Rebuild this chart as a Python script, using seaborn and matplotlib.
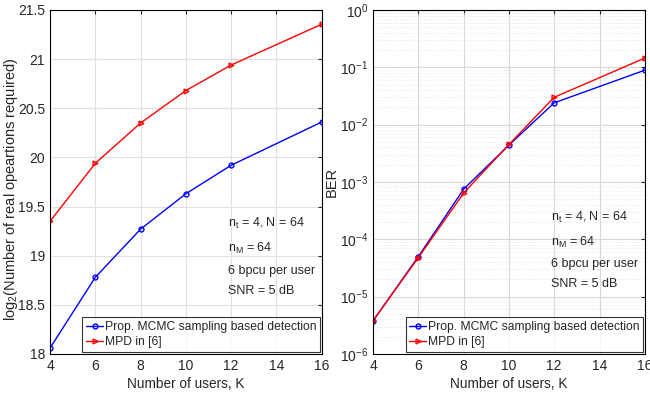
import pandas as pd
import numpy as np
import seaborn as sns
from matplotlib import pyplot as plt
from matplotlib import font_manager

# data
users = [4, 6, 8, 10, 12, 16]
ops_mcmc = [18.06, 18.78, 19.27, 19.63, 19.92, 20.36]
ops_mpd = [19.35, 19.94, 20.35, 20.68, 20.94, 21.355]
ber_mcmc = [3.8e-6, 5.0e-5, 7.5e-4, 4.4e-3, 2.4e-2, 8.9e-2]
ber_mpd = [3.8e-6, 4.8e-5, 6.4e-4, 4.5e-3, 3.0e-2, 1.45e-1]
labels = ['Prop. MCMC sampling based detection', 'MPD in [6]']

sns.set_style('white')
names = {f.name for f in font_manager.fontManager.ttflist}
fam = 'Liberation Sans Narrow' if 'Liberation Sans Narrow' in names else 'Liberation Sans'
plt.rcParams['font.family'] = [fam, 'DejaVu Sans']
plt.rcParams['mathtext.fontset'] = 'custom'
plt.rcParams['mathtext.rm'] = fam
plt.rcParams['mathtext.it'] = fam

df_ops = pd.DataFrame({'K': users * 2, 'val': ops_mcmc + ops_mpd,
                       'method': [labels[0]] * 6 + [labels[1]] * 6})
df_ber = pd.DataFrame({'K': users * 2, 'val': ber_mcmc + ber_mpd,
                       'method': [labels[0]] * 6 + [labels[1]] * 6})

fig = plt.figure(figsize=(6.5, 3.99), dpi=100)
ax1 = fig.add_axes([0.077, 0.113, 0.418, 0.862])
ax2 = fig.add_axes([0.574, 0.113, 0.418, 0.862])

pal = {labels[0]: 'blue', labels[1]: 'red'}
mk = {labels[0]: 'o', labels[1]: '>'}

for ax, df in [(ax1, df_ops), (ax2, df_ber)]:
    sns.lineplot(data=df, x='K', y='val', hue='method', style='method',
                 palette=pal, markers=mk, dashes=False, ax=ax, linewidth=1,
                 markersize=3.5)
    for ln in ax.lines:
        ln.set_markeredgecolor(ln.get_color())
        ln.set_markerfacecolor('none')
        ln.set_markeredgewidth(1)
    ax.set_xlim(4, 16)
    ax.set_xticks(range(4, 17, 2))
    ax.set_xlabel('Number of users, K', fontsize=9.8, labelpad=3)
    ax.tick_params(direction='in', top=True, right=True, labelsize=10, length=3)
    for s in ax.spines.values():
        s.set_color('black')
        s.set_linewidth(0.8)
    leg = ax.legend(loc='lower right', fontsize=8.7, frameon=True, fancybox=False,
                    edgecolor='black', borderpad=0.3, handlelength=1.4,
                    handletextpad=0.15, labelspacing=0.3, borderaxespad=0.15)
    leg.get_frame().set_linewidth(0.8)
    for h in leg.legend_handles:
        h.set_markeredgecolor(h.get_color())
        h.set_markerfacecolor('none')
        h.set_markeredgewidth(1)

info = (r'n$_\mathregular{t}$ = 4, N = 64' + '\n' + r'n$_\mathregular{M}$ = 64' + '\n'
        + '6 bpcu per user\nSNR = 5 dB')

ax1.set_ylim(18, 21.5)
ax1.set_yticks(np.arange(18, 21.6, 0.5))
ax1.set_yticklabels(['18', '18.5', '19', '19.5', '20', '20.5', '21', '21.5'])
ax1.grid(True, color='#e0e0e0', linewidth=0.8)
ax1.set_ylabel(r'log$_2$(Number of real opeartions required)', fontsize=10.5)
ax1.yaxis.set_label_coords(-0.112, 0.48)
ax1.text(0.655, 0.40, info, transform=ax1.transAxes, fontsize=9,
         va='top', linespacing=1.9)

ax2.set_yscale('log')
ax2.set_ylim(1e-6, 1)
ax2.set_yticks([1e-6, 1e-5, 1e-4, 1e-3, 1e-2, 1e-1, 1])
ax2.grid(True, which='major', color='#d8d8d8', linewidth=0.8)
ax2.grid(True, which='minor', color='#e4e4e4', linewidth=0.6, linestyle=':')
ax2.set_ylabel('BER', fontsize=10.5, labelpad=1)
ax2.text(0.655, 0.42, info, transform=ax2.transAxes, fontsize=9,
         va='top', linespacing=1.9)

plt.savefig('out.png', dpi=100)
